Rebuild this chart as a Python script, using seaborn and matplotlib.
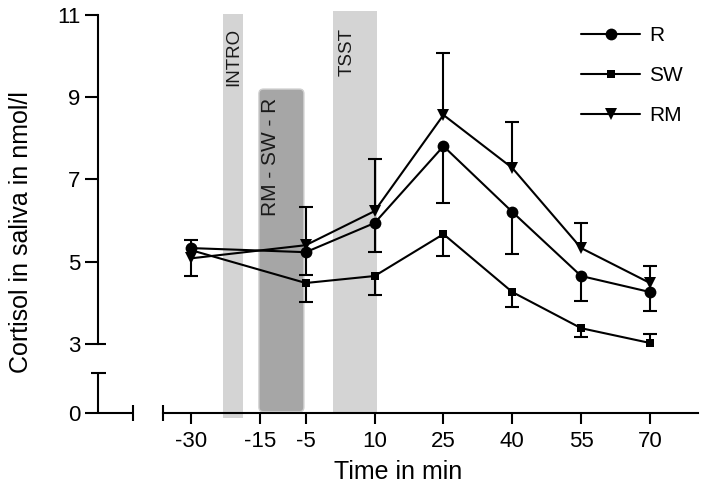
import numpy as np
import pandas as pd
import matplotlib
matplotlib.use("Agg")
import matplotlib.pyplot as plt
from matplotlib.patches import Rectangle, FancyBboxPatch
import seaborn as sns

# data
time_min = [-30, -5, 10, 25, 40, 55, 70]

r_mean = [5.33, 5.23, 5.94, 7.81, 6.21, 4.65, 4.26]
sw_mean = [5.28, 4.48, 4.65, 5.67, 4.26, 3.38, 3.02]
rm_mean = [5.08, 5.40, 6.23, 8.57, 7.28, 5.33, 4.48]

# one-sided error bars (lower / upper), 0 = not drawn
r_err_lo = [0.68, 0.56, 0.71, 1.38, 1.02, 0.61, 0.46]
r_err_hi = [0, 0, 0, 0, 0, 0, 0]
sw_err_lo = [0, 0.46, 0.46, 0.53, 0.36, 0.21, 0]
sw_err_hi = [0, 0, 0, 0, 0, 0, 0.22]
rm_err_lo = [0, 0, 0, 0, 0, 0, 0]
rm_err_hi = [0.45, 0.93, 1.27, 1.51, 1.12, 0.61, 0.41]

x_ticks = [-30, -15, -5, 10, 25, 40, 55, 70]
y_ticks = [3, 5, 7, 9, 11]

# experimental phases shown as shaded bands
phase_names = ["INTRO", "RM - SW - R", "TSST"]
phase_start = [-23.0, -15.2, 0.9]
phase_end = [-18.7, -5.4, 10.5]

series = pd.DataFrame({
    "time": time_min * 3,
    "cortisol": r_mean + sw_mean + rm_mean,
    "err_lo": r_err_lo + sw_err_lo + rm_err_lo,
    "err_hi": r_err_hi + sw_err_hi + rm_err_hi,
    "group": ["R"] * 7 + ["SW"] * 7 + ["RM"] * 7,
})

styles = {
    "R": dict(marker="o", markersize=8.5),
    "SW": dict(marker="s", markersize=5.5),
    "RM": dict(marker="v", markersize=8.5),
}

sns.set_style("ticks")
plt.rcParams["font.family"] = ["Liberation Sans", "DejaVu Sans"]
plt.rcParams["text.color"] = "black"
plt.rcParams["axes.labelcolor"] = "black"
plt.rcParams["xtick.color"] = "black"
plt.rcParams["ytick.color"] = "black"
plt.rcParams["axes.edgecolor"] = "black"

fig = plt.figure(figsize=(7.05, 4.94), dpi=100)
ax = fig.add_axes([98 / 705, 1 - 413 / 494, 600 / 705, 402 / 494])

y_bottom = 1.316
ax.set_xlim(-50.26, 80.46)
ax.set_ylim(y_bottom, 11.1)

# shaded phases
light = "#d4d4d4"
ax.add_patch(Rectangle((phase_start[0], 1.19), phase_end[0] - phase_start[0],
                       11.02 - 1.19, facecolor=light, edgecolor="none",
                       zorder=0, clip_on=False))
ax.add_patch(FancyBboxPatch((phase_start[1], y_bottom + 0.03),
                            phase_end[1] - phase_start[1], 9.2 - y_bottom - 0.03,
                            boxstyle="round,pad=0,rounding_size=1.0",
                            mutation_aspect=0.11, facecolor="#a6a6a6",
                            edgecolor="#cfcfcf", linewidth=1.0, zorder=0))
ax.add_patch(Rectangle((phase_start[2], y_bottom), phase_end[2] - phase_start[2],
                       11.1 - y_bottom, facecolor=light, edgecolor="none",
                       zorder=0, clip_on=False))

ax.text(-20.7, 10.68, phase_names[0], rotation=90, ha="center", va="top",
        fontsize=13.5, color="#1a1a1a")
ax.text(-12.7, 8.98, phase_names[1], rotation=90, ha="center", va="top",
        fontsize=15, color="#1a1a1a")
ax.text(4.0, 10.68, phase_names[2], rotation=90, ha="center", va="top",
        fontsize=13.5, color="#1a1a1a")

for name, grp in series.groupby("group", sort=False):
    sns.lineplot(data=grp, x="time", y="cortisol", color="black",
                 linewidth=1.5, label=name, ax=ax, zorder=4,
                 markeredgewidth=0, **styles[name])

    t = grp["time"].to_numpy()
    y = grp["cortisol"].to_numpy()
    lo = grp["err_lo"].to_numpy()
    hi = grp["err_hi"].to_numpy()
    m = lo > 0
    ax.vlines(t[m], y[m] - lo[m], y[m], color="black", linewidth=1.5, zorder=3)
    ax.plot(t[m], y[m] - lo[m], ls="none", marker="_", ms=10.5, mew=1.5,
            color="black", zorder=3)
    m = hi > 0
    ax.vlines(t[m], y[m], y[m] + hi[m], color="black", linewidth=1.5, zorder=3)
    ax.plot(t[m], y[m] + hi[m], ls="none", marker="_", ms=10.5, mew=1.5,
            color="black", zorder=3)

# axes with breaks
for side in ["top", "right"]:
    ax.spines[side].set_visible(False)
for side in ["left", "bottom"]:
    ax.spines[side].set_linewidth(1.5)
    ax.spines[side].set_color("black")
ax.spines["left"].set_bounds(3, 11)
ax.spines["bottom"].set_bounds(-36.1, 80.46)

brk = dict(color="black", linewidth=1.5, clip_on=False, zorder=5,
           solid_capstyle="butt")
ax.plot([-50.26, -50.26], [y_bottom, 2.29], **brk)
ax.plot([-51.8, -48.5], [2.29, 2.29], **brk)
ax.plot([-50.26, -48.5], [3, 3], **brk)
ax.plot([-50.26, -42.6], [y_bottom, y_bottom], **brk)
ax.plot([-42.6, -42.6], [y_bottom - 0.2, y_bottom + 0.2], **brk)
ax.plot([-36.1, -36.1], [y_bottom - 0.2, y_bottom + 0.2], **brk)

ax.set_xticks(x_ticks)
ax.set_xticklabels([str(v) for v in x_ticks])
ax.set_yticks([y_bottom] + y_ticks)
ax.set_yticklabels(["0"] + [str(v) for v in y_ticks])
ax.tick_params(axis="x", length=8, width=1.5, labelsize=16, pad=5,
               color="black", labelcolor="black")
ax.tick_params(axis="y", length=9.5, width=1.5, labelsize=16, pad=3,
               color="black", labelcolor="black")

ax.set_xlabel("Time in min", fontsize=18, labelpad=6)
ax.set_ylabel("Cortisol in saliva in nmol/l", fontsize=18)
ax.yaxis.set_label_coords(-0.108, 0.45)

ax.legend(loc="upper left", bbox_to_anchor=(573 / 705, 1 - 18 / 494),
          bbox_transform=fig.transFigure, frameon=False, fontsize=15,
          handlelength=2.8, handletextpad=0.45, labelspacing=1.0,
          borderaxespad=0)

fig.savefig("out.png", dpi=100)
